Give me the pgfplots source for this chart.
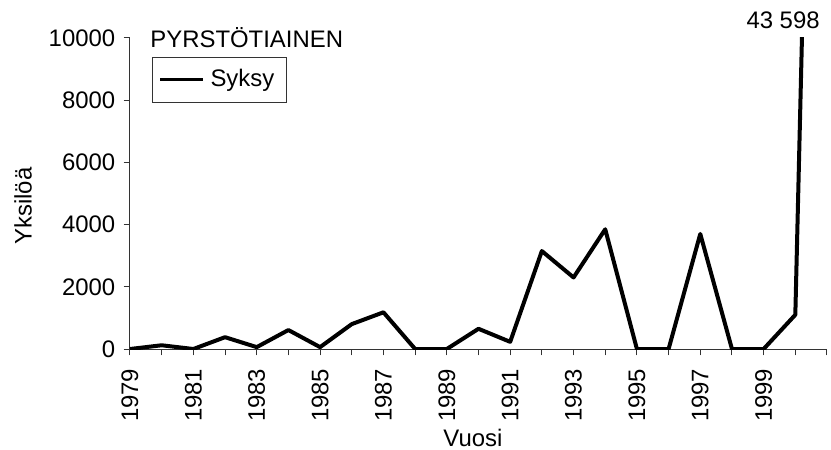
\documentclass[border=0pt]{standalone}
\usepackage{fontspec}
\setmainfont{Liberation Sans}
\usepackage{pgfplots}
\pgfplotsset{compat=1.18}
\begin{document}
\fontsize{12}{14.4}\selectfont
\begin{tikzpicture}
\begin{axis}[
  scale only axis,
  clip mode=individual,
  width=348.5bp, height=155.5bp,
  xmin=1979, xmax=2001,
  ymin=0, ymax=10000,
  axis x line=bottom, axis y line=left,
  axis line style={-, line width=0.5bp, black!80},
  tick align=outside,
  major tick length=3.2bp,
  tick style={line width=0.5bp, black!80},
  xtick={1979,...,2001},
  xticklabels={1979,,1981,,1983,,1985,,1987,,1989,,1991,,1993,,1995,,1997,,1999,,},
  xticklabel style={rotate=90, anchor=east, inner sep=0pt, xshift=-6.5bp, font=\fontsize{12}{14.4}\selectfont},
  ytick={0,2000,4000,6000,8000,10000},
  yticklabel style={font=\fontsize{12}{14.4}\selectfont},
  /pgf/number format/assume math mode=true,
  scaled y ticks=false,
  y tick label style={/pgf/number format/fixed, /pgf/number format/1000 sep={}},
  xlabel={Vuosi},
  ylabel={Yksilöä},
  xlabel style={at={(rel axis cs:0.492,-0.285)}, anchor=center, font=\fontsize{12}{14.4}\selectfont},
  ylabel style={at={(rel axis cs:-0.1535,0.46)}, anchor=center, font=\fontsize{12}{14.4}\selectfont},
  legend style={at={(rel axis cs:0.0316,0.939)}, anchor=north west, draw=black!80, line width=0.5bp,
    font=\fontsize{12}{14.4}\selectfont, inner xsep=3bp, inner ysep=4bp, nodes={inner xsep=3bp, inner ysep=2bp}},
  legend image code/.code={\draw[#1, line width=1.5bp] (0bp,0bp) -- (21.5bp,0bp);},
]
\addplot[black, line width=2bp, line join=round, mark=none] coordinates {
(1979,0) (1980,120) (1981,0) (1982,380) (1983,60) (1984,610) (1985,60)
(1986,800) (1987,1180) (1988,0) (1989,0) (1990,650) (1991,230)
(1992,3150) (1993,2300) (1994,3850) (1995,0) (1996,0) (1997,3700)
(1998,0) (1999,0) (2000,1100) (2001,43598)
};
\addlegendentry{Syksy}
\node[anchor=base west, inner sep=0pt] at (rel axis cs:0.0287,0.971) {PYRSTÖTIAINEN};
\node[anchor=base, inner sep=0pt] at (rel axis cs:0.937,1.032) {43 598};
\end{axis}
\pgfresetboundingbox
\path[use as bounding box] (-65bp,-50.5bp) rectangle (350.5bp,174.5bp);
\end{tikzpicture}
\end{document}
